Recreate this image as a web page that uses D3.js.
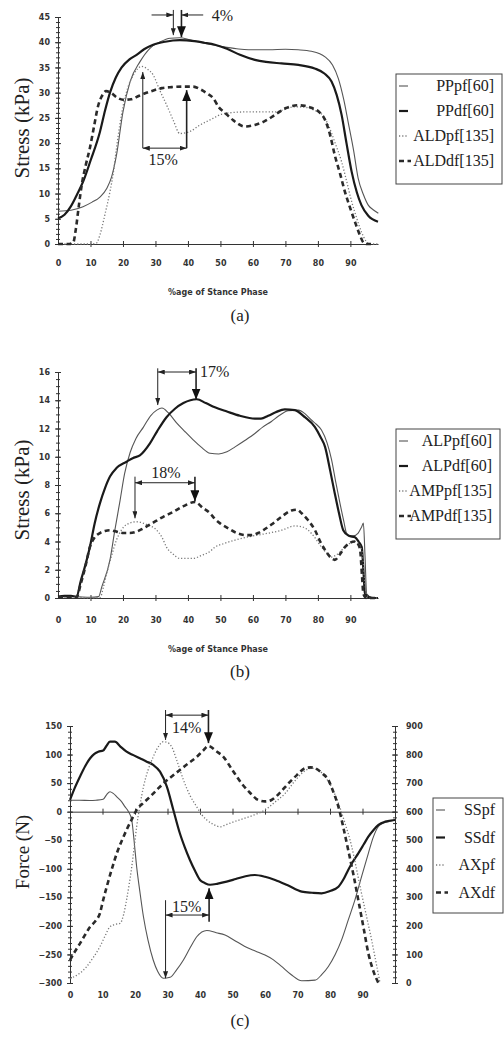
<!DOCTYPE html>
<html>
<head>
<meta charset="utf-8">
<script src="https://cdn.jsdelivr.net/npm/d3@7"></script>
<style>
  body { margin: 0; background: #fff; }
  .tick text { font-family: "DejaVu Sans", sans-serif; font-weight: bold; font-size: 8px; fill: #333; }
  .axis path, .axis line { stroke: #333; }
  .serif { font-family: "Liberation Serif", "Times New Roman", serif; fill: #222; }
  .xtitle { font-family: "DejaVu Sans", sans-serif; font-weight: bold; font-size: 8px; fill: #333; }
</style>
</head>
<body>
<svg id="chart" width="504" height="1041"></svg>
<script>
// ---- data ----
const xTicks = [0, 10, 20, 30, 40, 50, 60, 70, 80, 90];
const yTicksA = [0, 5, 10, 15, 20, 25, 30, 35, 40, 45];
const yTicksB = [0, 2, 4, 6, 8, 10, 12, 14, 16];
const yTicksC = [-300, -250, -200, -150, -100, -50, 0, 50, 100, 150];
const yTicksCR = [0, 100, 200, 300, 400, 500, 600, 700, 800, 900];

const namesA = ['PPpf[60]', 'PPdf[60]', 'ALDpf[135]', 'ALDdf[135]'];
const namesB = ['ALPpf[60]', 'ALPdf[60]', 'AMPpf[135]', 'AMPdf[135]'];
const namesC = ['SSpf', 'SSdf', 'AXpf', 'AXdf'];

// panel (a), stress kPa vs % stance
const a_PPpf = [[0,6.5],[4,6.7],[7.7,7.4],[10.5,8.3],[12.9,9.3],[15,11],[16.5,13.3],[18,17.6],[20,26.2],[22.2,32.2],[25.2,36.1],[28.3,38.8],[31.5,40.1],[34.5,40.8],[37.5,40.9],[40.6,40.5],[45,39.8],[50,39.2],[55,38.7],[58.6,38.5],[65,38.5],[70,38.6],[73.9,38.5],[78,38.2],[82.2,37.1],[84.5,35.5],[86.3,32.8],[88,28.5],[89.3,24.2],[91,18.5],[92.4,13],[94,9.8],[95.5,7.7],[97,6.8],[98.6,6.1]];
const a_PPdf = [[0,5.1],[2,5.8],[4,7.5],[6,10],[7.7,12.3],[10,16.5],[12.9,22.2],[14.5,26.5],[16,30],[17.8,33],[19.6,35],[22,36.6],[24.2,37.5],[26.5,38.6],[29.3,39.5],[33,40.1],[37.5,40.4],[42,40.2],[45,39.9],[48.3,39.5],[52,38.7],[56,37.5],[60.6,36.5],[64,36.1],[68.8,35.8],[74,35.5],[79,34.8],[82,33.8],[84.2,32.2],[85.8,29.5],[87.3,25.6],[88.8,20],[90.4,14.3],[92,10.2],[93.4,7.7],[95.5,5.6],[98.5,4.4]];
const a_ALDpf = [[0,0],[5,0],[10,0],[11.9,0.2],[12.9,1.8],[14.5,6],[16,10.4],[17,14],[18,19],[19,23.5],[20.1,27.5],[21.5,31],[23.2,33.5],[25.7,35.2],[27.5,34.7],[29.3,33.5],[31.3,30.5],[33.4,27.6],[35.5,24.5],[37.5,21.9],[40.6,22.3],[43.5,23.5],[46.8,24.6],[51.4,25.9],[58.6,26.2],[66.8,26.2],[72.9,27.2],[76,27.1],[79,26.5],[81.5,25.5],[83.2,23.6],[85.3,20],[87.3,16.3],[88.9,12.3],[90.4,8.4],[92,5],[93.4,2.4],[94.9,0.5],[96,0],[98.5,0]];
const a_ALDdf = [[0,0],[3.5,0],[4.7,0.3],[5.5,3],[6.4,7.5],[7.3,11.7],[8.5,15.5],[9.8,19],[11,23],[12.4,27.5],[13.5,29.3],[14.8,30.3],[16.5,29.9],[18,29.1],[20,28.6],[22.5,28.7],[25,29.4],[28.3,30.2],[32,30.9],[35,31.1],[38.5,31.2],[41.5,31.2],[44,30.6],[46,29.8],[47.8,28.9],[49.5,27.1],[51.4,26],[54,24.5],[57.5,23.3],[60.6,23.6],[63.5,24.3],[66.8,25.6],[70,26.9],[73.9,27.5],[76,27.4],[78,27],[80.5,26.1],[82.2,24.6],[83.8,21.5],[85.2,17.6],[86.8,14],[88.3,10.4],[90,7],[91.4,4.4],[92.9,1.8],[94,0.3],[95,0],[97,0]];

// panel (b)
const b_ALPpf = [[0,0.1],[5,0.1],[10,0.05],[12.5,0.1],[13.5,0.8],[16,2.7],[17.5,4.8],[19.1,6.9],[20.5,8.8],[22.2,10.3],[24,11.3],[26.3,12.1],[28.5,12.9],[30.4,13.3],[32,13.45],[34,13.1],[36.5,12.4],[39,11.8],[41.6,11.2],[44,10.7],[46.8,10.25],[49.5,10.2],[52,10.35],[54.5,10.7],[57.5,11.15],[60.6,11.65],[63,12.1],[65.7,12.5],[68,12.9],[70.9,13.26],[74,13.3],[76,13.05],[78,12.6],[79.5,12.3],[81.1,11.9],[82.8,11],[84.2,9.8],[85.5,8.2],[86.8,6.7],[88,5.4],[88.8,4.6],[89.8,4.4],[90.9,4.4],[92.4,4.6],[93.4,5],[94,5.3],[94.5,3],[95,0.3],[96.5,0.05],[98.5,0]];
const b_ALPdf = [[0,0.1],[2,0.15],[4,0.15],[5.7,0.1],[7,1.2],[8.5,2.4],[9.8,3.6],[11.3,5.3],[12.9,6.7],[14.5,7.8],[16,8.6],[18,9.2],[21.1,9.65],[23,9.9],[25.2,10.1],[28.3,10.95],[30.5,11.8],[33.4,12.8],[36,13.4],[38.6,13.8],[42.7,14.07],[45.5,13.8],[48.3,13.5],[52,13.2],[56,12.9],[60.6,12.7],[62.5,12.7],[64.7,12.9],[67,13.15],[69.8,13.36],[72.9,13.3],[76,12.8],[79.1,12.1],[80.8,11.4],[82.2,10.7],[83.8,9],[85.2,7.4],[86.5,6],[87.8,4.8],[89.5,4.4],[91.4,4.3],[92.5,4],[93.5,3.6],[94,2],[94.5,0.3],[96.5,0],[98.5,0]];
const b_AMPpf = [[0,0.05],[5,0.05],[10,0],[13,0.05],[14,0.8],[15,1.75],[16.5,3],[18,4.1],[19.5,4.8],[21.1,5.2],[24.2,5.4],[27.3,5.2],[30.4,4.8],[32,4.3],[33.4,3.6],[35.5,3.1],[37.5,2.8],[41.6,2.8],[44,3],[46.8,3.3],[48.3,3.6],[51,3.85],[54.5,4.1],[58,4.3],[61.6,4.46],[65,4.6],[68.8,4.8],[72.9,5.1],[75,5.05],[77,4.8],[79,4.3],[81.1,3.6],[82.7,3.2],[84.2,2.9],[86,3.1],[88.3,3.6],[91.4,4.0],[93.5,3.4],[94.3,1.5],[95,0.2],[96.5,0],[98.5,0]];
const b_AMPdf = [[0,0.05],[5.7,0.05],[7,1],[8.5,2.3],[9.8,3.6],[11.3,4.3],[12.9,4.6],[14.5,4.75],[16,4.8],[18,4.7],[20.1,4.6],[22,4.6],[24.2,4.7],[26,4.9],[28.3,5.2],[30.5,5.5],[32.4,5.75],[35.5,6.1],[38.6,6.5],[42.2,6.8],[44.5,6.4],[46.8,6],[48.3,5.6],[49.8,5.3],[52.4,4.93],[55,4.6],[57.5,4.46],[59.5,4.45],[61.6,4.6],[63.5,4.85],[65.7,5.2],[68.5,5.7],[71.9,6.2],[73.5,6.25],[75,6],[77,5.5],[79.1,4.8],[80.7,4],[82.2,3.4],[83.8,2.9],[85.2,2.7],[86.8,3.1],[88.3,3.6],[91.4,4],[92.4,3.8],[93,3.4],[93.6,1.5],[94,0.3],[95,0],[98.5,0]];

// panel (c): SS in N (left axis), AX in N (right axis)
const c_SSpf = [[0,20],[3,20],[6,19.5],[8,20],[10.2,21.7],[11.3,30],[12.3,35],[13.3,32],[14.4,26],[15.8,18],[16.9,8.8],[18,0],[19,-14.6],[19.7,-50],[20.5,-96],[21.5,-140],[22.6,-184],[24,-225],[25.6,-259.7],[27,-280],[28.7,-291.8],[30.8,-290],[32.8,-277],[34.9,-259.7],[37,-238],[39,-219],[42.1,-208],[45,-212],[47.7,-216],[50.5,-225],[53.8,-236],[57,-244],[60,-251],[62.5,-259],[65.1,-271],[68,-285],[71.3,-296],[75.4,-295],[77.5,-285],[79.5,-271],[81.6,-250],[83.6,-224],[85.6,-190],[87.7,-154],[89.8,-112],[91.8,-73],[93.3,-45],[94.9,-26],[96.5,-20],[98,-17.5],[100,-14.6]];
const c_SSdf = [[0,20.5],[1.5,42],[3.1,61.8],[4.7,80],[6.2,93.5],[7.5,101],[8.7,105],[10.2,107],[11.2,115],[12.3,122.6],[13.8,122.6],[15.5,114],[17.4,105],[19.5,99],[21.5,93.5],[23.5,88],[25.6,81.8],[27.7,70],[29.8,43.8],[31.8,3],[33.8,-37.8],[35.3,-62],[36.9,-84.6],[38.5,-104],[40,-119.6],[41.5,-125],[43.1,-128],[45.5,-126],[48.2,-122.6],[51,-118],[54,-113],[56.9,-110.9],[60,-114],[63.1,-119.6],[67,-129],[71.3,-140],[74.5,-142],[77.4,-143],[80,-139],[82.6,-131.4],[84.2,-118],[85.6,-102],[87.2,-86],[88.7,-72.9],[90.3,-58],[91.8,-43.8],[93.4,-32],[94.9,-23.3],[97,-17.5],[100,-14.6]];
const c_AXpf = [[0,16],[2.5,30],[5.1,57],[7.2,90],[9.2,127],[10.8,165],[12.3,197],[13.8,205],[15.4,209],[16.5,240],[17.4,291],[18.2,345],[19,407],[19.8,480],[20.5,547],[21.5,620],[22.6,687],[24,745],[25.6,792],[27.2,828],[28.7,845],[30,842],[31.3,827],[33,775],[34.9,711],[37,655],[39,617],[40.5,590],[42.1,571],[44,556],[46.2,547],[47.7,553],[50.5,565],[53.8,577],[57,590],[60,606],[63,633],[66.2,664],[69,705],[71.3,734],[74.4,752],[76.5,745],[78.5,722],[80.5,685],[82.6,629],[84.6,560],[86.7,477],[88.2,397],[89.7,314],[91.3,230],[92.8,151],[94.2,70],[95.4,0]];
const c_AXdf = [[0,80],[1.5,110],[3.1,139],[4.7,170],[6.2,197],[7.7,215],[9.2,244],[10.2,290],[11.3,337],[12.9,400],[14.4,454],[16,500],[17.4,536],[19,573],[20.5,606],[22.5,630],[24.6,652],[26.7,676],[28.7,699],[31.3,723],[33.8,746],[36.4,769],[39,792],[40.8,812],[42.6,830],[45,812],[47.2,792],[50,745],[52.8,699],[55.3,667],[57.9,641],[60,636],[62,641],[64.5,665],[67.2,699],[69.8,728],[72.3,752],[74,755],[75.4,752],[77.5,735],[79.5,711],[81,670],[82.6,617],[84.1,545],[85.6,466],[87.2,380],[88.7,291],[90.3,195],[91.8,104],[93.4,40],[94.9,0]];

// shift annotations (data units of each panel)
const annA = [
  {v: [35.5, 46.4, 41.4], head: 'tip'},
  {v: [38, 46.4, 41], head: 'big'},
  {h: [28.8, 35.5, 45.4], heads: 'end'},
  {h: [44.7, 38, 45.4], heads: 'end'},
  {t: [47.3, 44.2, '4%'], anchor: 'start'},
  {v: [26.1, 19, 34.1], head: 'tip'},
  {v: [39.6, 19, 30.5], head: 'big'},
  {h: [26.1, 39.6, 19], heads: 'both'},
  {t: [32.4, 15.6, '15%'], anchor: 'middle'}
];
const annB = [
  {v: [30.7, 16.26, 13.66], head: 'tip'},
  {v: [42.5, 16.26, 14.05], head: 'big'},
  {h: [30.7, 42.5, 16.0], heads: 'both'},
  {t: [43.7, 15.65, '17%'], anchor: 'start'},
  {v: [23.7, 8.59, 5.64], head: 'tip'},
  {v: [42.15, 8.59, 6.85], head: 'big'},
  {h: [23.7, 42.15, 8.16], heads: 'both'},
  {t: [33.2, 8.5, '18%'], anchor: 'middle'}
];
const annC = [
  {v: [29.4, 178, 125.6], head: 'tip'},
  {v: [42.6, 178, 120], head: 'big'},
  {h: [29.4, 42.6, 169], heads: 'both'},
  {t: [35.9, 138, '14%'], anchor: 'middle'},
  {v: [29.4, -155, -291.8], head: 'tip'},
  {v: [42.8, -192.6, -134], head: 'big'},
  {h: [29.4, 42.8, -181], heads: 'both'},
  {t: [35.9, -175, '15%'], anchor: 'middle'}
];

// ---- styles ----
const styles = {
  thin:  {w: 1.1, c: '#555', dash: null},
  thick: {w: 2.2, c: '#1a1a1a', dash: null},
  dot:   {w: 1.3, c: '#777', dash: '1.2,2'},
  dash:  {w: 2.6, c: '#2a2a2a', dash: '5,3.5'}
};
const kinds = ['thin', 'thick', 'dot', 'dash'];

const panels = [
  {x: [58, 378], xDom: [0, 98.5], y: [244, 17], yDom: [0, 45], yTicks: yTicksA, minor: 1,
   series: [a_PPpf, a_PPdf, a_ALDpf, a_ALDdf], names: namesA, ann: annA,
   xLabelY: 263, title: 'Stress (kPa)', titleY: 128, titleSize: 21,
   legend: {x: 396, y: 74, w: 106, h: 110, step: 25}, tag: '(a)', tagY: 321},
  {x: [58, 378], xDom: [0, 98.5], y: [598, 372], yDom: [0, 16], yTicks: yTicksB, minor: 0.5,
   series: [b_ALPpf, b_ALPdf, b_AMPpf, b_AMPdf], names: namesB, ann: annB,
   xLabelY: 620, title: 'Stress (kPa)', titleY: 490, titleSize: 21,
   legend: {x: 396, y: 429, w: 104, h: 110, step: 25}, tag: '(b)', tagY: 677},
  {x: [70, 395], xDom: [0, 100], y: [983, 726], yDom: [-300, 150], yTicks: yTicksC, minor: 10,
   yRDom: [0, 900], yRTicks: yTicksCR, minorR: 20,
   series: [c_SSpf, c_SSdf, c_AXpf, c_AXdf], right: [false, false, true, true], names: namesC, ann: annC,
   xLabelY: 995, title: 'Force (N)', titleY: 852, titleSize: 19,
   legend: {x: 433, y: 798, w: 70, h: 115, step: 27.5}, tag: '(c)', tagY: 1026}
];

const svg = d3.select('#chart');
const defs = svg.append('defs');
defs.append('marker').attr('id', 'tip')
  .attr('viewBox', '0 0 7 5').attr('refX', 7).attr('refY', 2.5)
  .attr('markerWidth', 7).attr('markerHeight', 5).attr('markerUnits', 'userSpaceOnUse')
  .attr('orient', 'auto-start-reverse')
  .append('path').attr('d', 'M0,0L7,2.5L0,5Z').attr('fill', '#222');
defs.append('marker').attr('id', 'big')
  .attr('viewBox', '0 0 11 9').attr('refX', 11).attr('refY', 4.5)
  .attr('markerWidth', 11).attr('markerHeight', 9).attr('markerUnits', 'userSpaceOnUse')
  .attr('orient', 'auto-start-reverse')
  .append('path').attr('d', 'M0,0L11,4.5L0,9Z').attr('fill', '#111');

function noDomain(g) { g.select('.domain').remove(); }

panels.forEach((p) => {
  const x = d3.scaleLinear().domain(p.xDom).range(p.x);
  const y = d3.scaleLinear().domain(p.yDom).range(p.y);
  const yR = p.yRDom ? d3.scaleLinear().domain(p.yRDom).range(p.y) : null;
  const g = svg.append('g');

  // left y axis: labels + crossing major/minor ticks
  const minorL = d3.range(p.yDom[0], p.yDom[1] + 1e-9, p.minor);
  g.append('g').attr('class', 'axis').attr('transform', `translate(${p.x[0]},0)`)
    .call(d3.axisLeft(y).tickValues(p.yTicks).tickSizeInner(3).tickSizeOuter(0).tickPadding(5));
  g.append('g').attr('class', 'axis').attr('transform', `translate(${p.x[0]},0)`)
    .call(d3.axisRight(y).tickValues(p.yTicks).tickSize(3).tickFormat('')).call(noDomain);
  g.append('g').attr('class', 'axis').attr('transform', `translate(${p.x[0]},0)`)
    .call(d3.axisLeft(y).tickValues(minorL).tickSize(2).tickFormat('')).call(noDomain);
  g.append('g').attr('class', 'axis').attr('transform', `translate(${p.x[0]},0)`)
    .call(d3.axisRight(y).tickValues(minorL).tickSize(2).tickFormat('')).call(noDomain);

  if (yR) {
    const minorR = d3.range(p.yRDom[0], p.yRDom[1] + 1e-9, p.minorR);
    g.append('g').attr('class', 'axis').attr('transform', `translate(${p.x[1]},0)`)
      .call(d3.axisRight(yR).tickValues(p.yRTicks).tickSizeInner(3).tickSizeOuter(0).tickPadding(8));
    g.append('g').attr('class', 'axis').attr('transform', `translate(${p.x[1]},0)`)
      .call(d3.axisLeft(yR).tickValues(p.yRTicks).tickSize(3).tickFormat('')).call(noDomain);
    g.append('g').attr('class', 'axis').attr('transform', `translate(${p.x[1]},0)`)
      .call(d3.axisLeft(yR).tickValues(minorR).tickSize(2).tickFormat('')).call(noDomain);
    g.append('g').attr('class', 'axis').attr('transform', `translate(${p.x[1]},0)`)
      .call(d3.axisRight(yR).tickValues(minorR).tickSize(2).tickFormat('')).call(noDomain);
  }

  // x axis along zero, crossing ticks
  const y0 = y(0);
  g.append('g').attr('class', 'axis').attr('transform', `translate(0,${y0})`)
    .call(d3.axisBottom(x).tickValues(xTicks.slice(1)).tickSizeInner(3).tickSizeOuter(0).tickFormat(''));
  g.append('g').attr('class', 'axis').attr('transform', `translate(0,${y0})`)
    .call(d3.axisTop(x).tickValues(xTicks.slice(1)).tickSize(3).tickFormat('')).call(noDomain);
  // x tick labels
  g.append('g').attr('transform', `translate(0,${p.xLabelY - 3})`)
    .call(d3.axisBottom(x).tickValues(xTicks).tickSize(0).tickPadding(0)).call(noDomain);

  if (p.xLabelY < 900) {
    g.append('text').attr('class', 'xtitle')
      .attr('x', 218).attr('y', p.xLabelY + 35 - 3).attr('text-anchor', 'middle')
      .text('%age of Stance Phase');
  }

  // y title
  g.append('text').attr('class', 'serif')
    .attr('transform', `translate(29,${p.titleY}) rotate(-90)`)
    .attr('text-anchor', 'middle').style('font-size', p.titleSize + 'px')
    .text(p.title);

  // series
  p.series.forEach((s, i) => {
    const st = styles[kinds[i]];
    const ys = p.right && p.right[i] ? yR : y;
    const line = d3.line().x((d) => x(d[0])).y((d) => ys(d[1])).curve(d3.curveMonotoneX);
    g.append('path').attr('d', line(s)).attr('fill', 'none')
      .attr('stroke', st.c).attr('stroke-width', st.w)
      .attr('stroke-dasharray', st.dash).attr('stroke-linejoin', 'round');
  });

  // annotations
  p.ann.forEach((a) => {
    if (a.v) {
      g.append('line').attr('x1', x(a.v[0])).attr('x2', x(a.v[0]))
        .attr('y1', y(a.v[1])).attr('y2', y(a.v[2]))
        .attr('stroke', '#222').attr('stroke-width', a.head === 'big' ? 1.6 : 1)
        .attr('marker-end', `url(#${a.head})`);
    } else if (a.h) {
      g.append('line').attr('x1', x(a.h[0])).attr('x2', x(a.h[1]))
        .attr('y1', y(a.h[2])).attr('y2', y(a.h[2]))
        .attr('stroke', '#222').attr('stroke-width', 1)
        .attr('marker-end', 'url(#tip)')
        .attr('marker-start', a.heads === 'both' ? 'url(#tip)' : null);
    } else if (a.t) {
      g.append('text').attr('class', 'serif').style('font-size', '16px')
        .attr('x', x(a.t[0])).attr('y', y(a.t[1])).attr('text-anchor', a.anchor)
        .text(a.t[2]);
    }
  });

  // legend
  const L = p.legend;
  const lg = g.append('g').attr('transform', `translate(${L.x},${L.y})`);
  lg.append('rect').attr('width', L.w).attr('height', L.h)
    .attr('fill', '#fff').attr('stroke', '#444').attr('stroke-width', 1);
  p.names.forEach((n, i) => {
    const st = styles[kinds[i]];
    const yy = 16 + i * L.step;
    lg.append('line').attr('x1', 3).attr('x2', i === 3 ? 15 : 12).attr('y1', yy - 4).attr('y2', yy - 4)
      .attr('stroke', st.c).attr('stroke-width', st.w).attr('stroke-dasharray', st.dash);
    lg.append('text').attr('class', 'serif').style('font-size', '16px')
      .attr('x', L.w - 8).attr('y', yy + 1).attr('text-anchor', 'end').text(n);
  });

  // panel tag
  g.append('text').attr('class', 'serif').style('font-size', '17px')
    .attr('x', 240).attr('y', p.tagY).attr('text-anchor', 'middle').text(p.tag);
});
</script>
</body>
</html>
